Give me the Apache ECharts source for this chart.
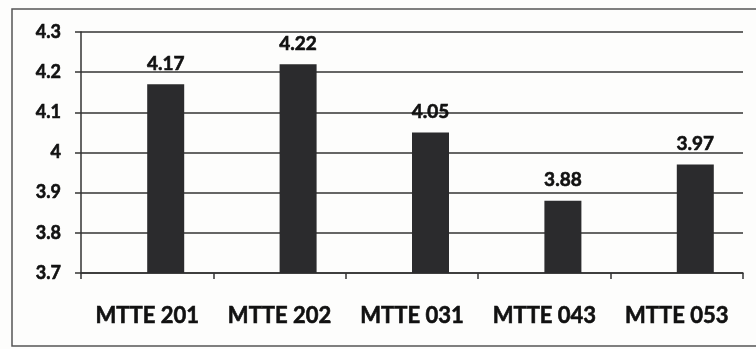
<!DOCTYPE html>
<html>
<head>
<meta charset="utf-8">
<script src="https://cdn.jsdelivr.net/npm/echarts@6/dist/echarts.min.js"></script>
<style>
  html, body { margin: 0; padding: 0; background: #fdfdfc; }
  #main { width: 756px; height: 349px; }
</style>
</head>
<body>
<div id="main"></div>
<script>
var courses = ['MTTE 201', 'MTTE 202', 'MTTE 031', 'MTTE 043', 'MTTE 053'];
var scores = [4.17, 4.22, 4.05, 3.88, 3.97];
// empty series, Excel left a slot for it so bars sit right of centre
var emptySlot = ['-', '-', '-', '-', '-'];

// scanned text looks heavier, thicken it a bit
var heavy = { textBorderColor: '#111', textBorderWidth: 0.6 };

var myChart = echarts.init(document.getElementById('main'));
var option = {
    backgroundColor: '#fdfdfc',
    animation: false,
    graphic: [{
        type: 'rect',
        shape: { x: 12, y: 9, width: 760, height: 337 },
        style: { fill: 'none', stroke: '#555', lineWidth: 1.5 }
    }],
    grid: { left: 81, right: 13, top: 32, bottom: 76 },
    xAxis: {
        type: 'category',
        data: courses,
        axisLine: { lineStyle: { color: '#333', width: 1.5 } },
        axisTick: { show: true, length: 6, lineStyle: { color: '#333', width: 1.5 } },
        axisLabel: Object.assign({
            interval: 0,
            margin: 32,
            color: '#111',
            fontFamily: 'Lato',
            fontWeight: 'bold',
            fontSize: 22
        }, heavy)
    },
    yAxis: {
        type: 'value',
        min: 3.7,
        max: 4.3,
        interval: 0.1,
        axisLine: { show: true, lineStyle: { color: '#333', width: 1.5 } },
        axisTick: { show: true, length: 6, lineStyle: { color: '#333', width: 1.5 } },
        splitLine: { lineStyle: { color: '#333', width: 1.6 } },
        axisLabel: Object.assign({
            margin: 20,
            color: '#111',
            fontFamily: 'Lato',
            fontWeight: 'bold',
            fontSize: 18
        }, heavy)
    },
    series: [
        {
            type: 'bar',
            data: emptySlot,
            barWidth: 37,
            barGap: 0
        },
        {
            type: 'bar',
            data: scores,
            barWidth: 37,
            barGap: 0,
            itemStyle: { color: '#2b2b2d' },
            label: Object.assign({
                show: true,
                position: 'top',
                distance: 11,
                color: '#111',
                fontFamily: 'Lato',
                fontWeight: 'bold',
                fontSize: 19
            }, heavy)
        }
    ]
};
myChart.setOption(option);
</script>
</body>
</html>
